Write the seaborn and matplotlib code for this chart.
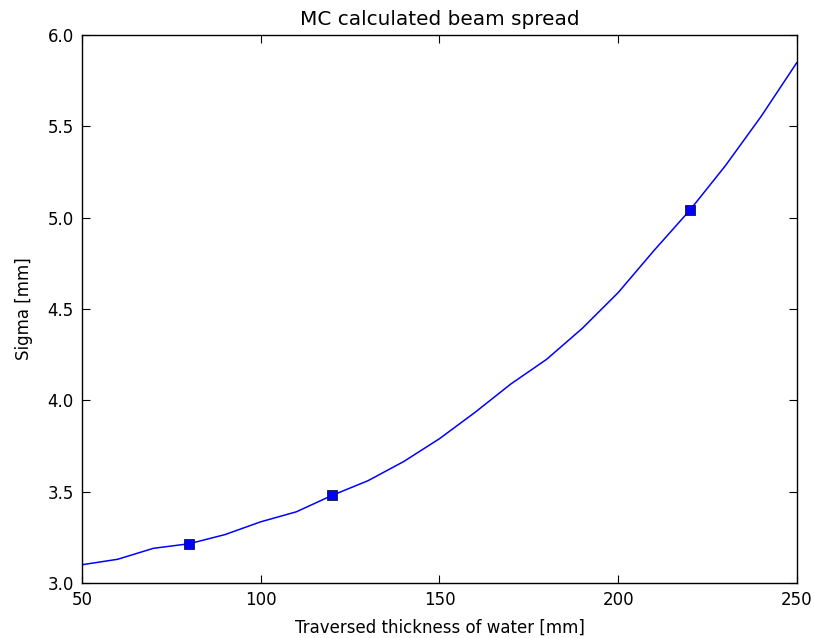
import matplotlib
matplotlib.use("Agg")
import matplotlib.pyplot as plt
import seaborn as sns
import pandas as pd

thickness = [50, 60, 70, 80, 90, 100, 110, 120, 130, 140, 150,
             160, 170, 180, 190, 200, 210, 220, 230, 240, 250]
sigma = [3.10, 3.13, 3.19, 3.215, 3.265, 3.335, 3.39, 3.48, 3.56, 3.665, 3.79,
         3.935, 4.09, 4.225, 4.395, 4.59, 4.82, 5.04, 5.285, 5.555, 5.85]
marker_thickness = [80, 120, 220]
marker_sigma = [3.215, 3.48, 5.04]

sns.set_style("ticks", {"xtick.direction": "in", "ytick.direction": "in"})
plt.rcParams['font.family'] = ['DejaVu Sans']
plt.rcParams['text.color'] = 'black'
plt.rcParams['axes.labelcolor'] = 'black'

fig = plt.figure(figsize=(8.14, 6.38), dpi=100)
ax = fig.add_axes([0.1007, 0.0862, 0.8783, 0.8588])

df = pd.DataFrame({"x": thickness, "y": sigma})
dm = pd.DataFrame({"x": marker_thickness, "y": marker_sigma})

sns.lineplot(data=df, x="x", y="y", ax=ax, color="#0000ff", linewidth=1.1)
sns.scatterplot(data=dm, x="x", y="y", ax=ax, marker="s", color="#0000ff",
                edgecolor="black", linewidth=0.5, s=50, zorder=3)

ax.set_xlim(50, 250)
ax.set_ylim(3.0, 6.0)
ax.set_xticks([50, 100, 150, 200, 250])
ax.set_yticks([3.0, 3.5, 4.0, 4.5, 5.0, 5.5, 6.0])
ax.set_yticklabels(["3.0", "3.5", "4.0", "4.5", "5.0", "5.5", "6.0"])
ax.tick_params(direction="in", length=6, width=0.8, labelsize=12,
               top=True, right=True, colors="black", pad=6)
for sp in ax.spines.values():
    sp.set_visible(True)
    sp.set_color("black")
    sp.set_linewidth(1.0)

ax.set_xlabel("Traversed thickness of water [mm]", fontsize=12, color="black", labelpad=7)
ax.set_ylabel("Sigma [mm]", fontsize=12, color="black", labelpad=10)
ax.set_title("MC calculated beam spread", fontsize=14.4, pad=7, color="black")

fig.savefig("out.png", dpi=100)
